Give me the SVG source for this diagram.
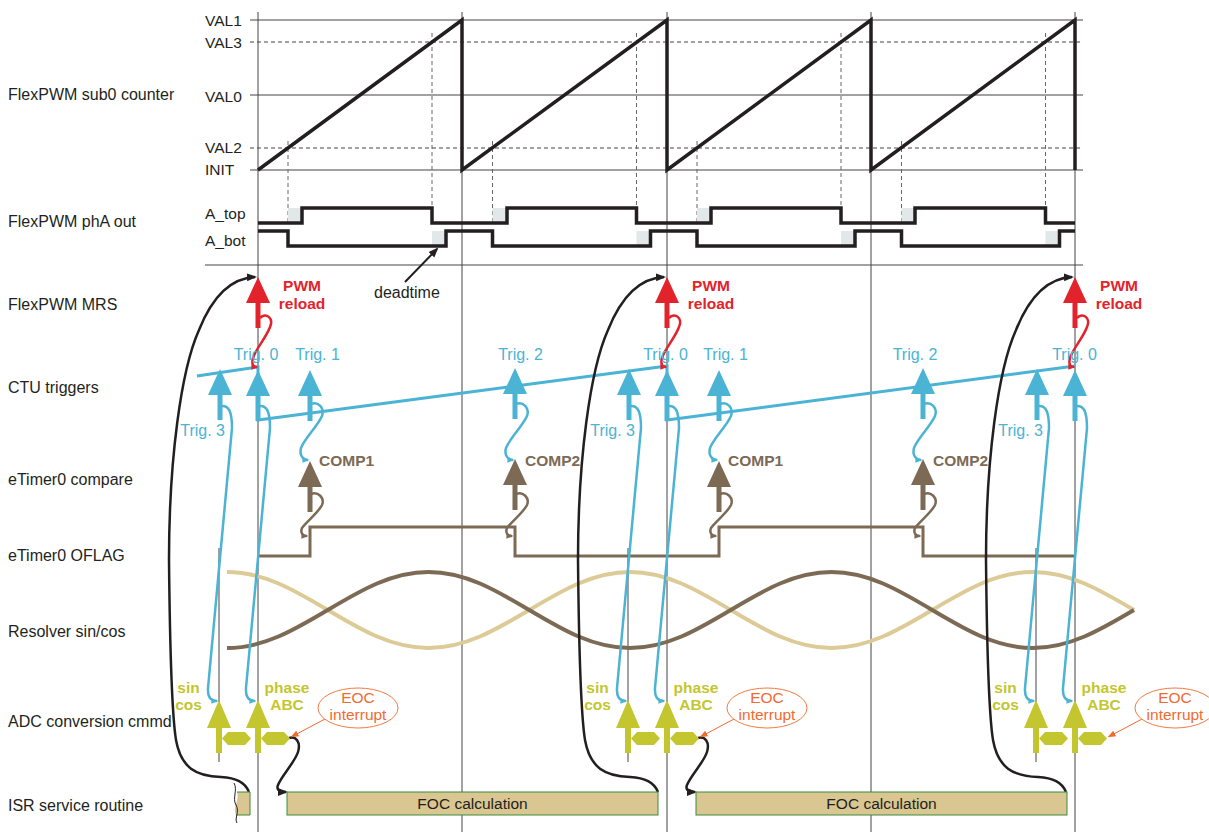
<svg xmlns="http://www.w3.org/2000/svg" width="1209" height="832" viewBox="0 0 1209 832">
<defs>
<style>
text{font-family:"Liberation Sans",Arial,Helvetica,sans-serif}
.lbl{font-size:16px;fill:#231f20}
.val{font-size:15.5px;fill:#231f20}
.trig{font-size:16px;fill:#4bb3d3}
.pwm{font-size:15.5px;font-weight:bold;fill:#e3232c;text-anchor:middle}
.comp{font-size:15.5px;font-weight:bold;fill:#7c6a55}
.adc{font-size:15.5px;font-weight:bold;fill:#c3c62e;text-anchor:middle}
.eoc{font-size:15.5px;fill:#f26a30;text-anchor:middle}
.foc{font-size:15.5px;fill:#231f20;text-anchor:middle}
.grid{stroke:#444;stroke-width:1;fill:none}
.dash{stroke:#444;stroke-width:1;stroke-dasharray:4 3;fill:none}
.gdash{stroke:#666;stroke-width:1;stroke-dasharray:4 3;fill:none}
.sig{stroke:#231f20;stroke-width:3.5;fill:none;stroke-linejoin:miter}
.cy{stroke:#4bb3d3;stroke-width:2.5;fill:none}
.br{stroke:#7c6a55;stroke-width:2.5;fill:none}
.rd{stroke:#e3232c;stroke-width:2.5;fill:none}
.bk{stroke:#231f20;stroke-width:2.5;fill:none}
.dt{fill:#e2e7e7}
.box{fill:#d9c690;stroke:#3d8b3d;stroke-width:1}
</style>
<marker id="mk-black" viewBox="0 0 10 10" refX="8" refY="5" markerWidth="10" markerHeight="10" markerUnits="userSpaceOnUse" orient="auto"><path d="M0,1 L10,5 L0,9 z" fill="#231f20"/></marker>
<marker id="mk-cyan" viewBox="0 0 10 10" refX="8" refY="5" markerWidth="7" markerHeight="7" markerUnits="userSpaceOnUse" orient="auto"><path d="M0,1 L10,5 L0,9 z" fill="#4bb3d3"/></marker>
<marker id="mk-red" viewBox="0 0 10 10" refX="8" refY="5" markerWidth="7" markerHeight="7" markerUnits="userSpaceOnUse" orient="auto"><path d="M0,1 L10,5 L0,9 z" fill="#e3232c"/></marker>
<marker id="mk-brown" viewBox="0 0 10 10" refX="8" refY="5" markerWidth="7" markerHeight="7" markerUnits="userSpaceOnUse" orient="auto"><path d="M0,1 L10,5 L0,9 z" fill="#7c6a55"/></marker>
<marker id="mk-orange" viewBox="0 0 10 10" refX="8" refY="5" markerWidth="8" markerHeight="8" markerUnits="userSpaceOnUse" orient="auto"><path d="M0,1 L10,5 L0,9 z" fill="#f26a30"/></marker>
<path id="arrowUp" d="M0 0 L12 26 L2.5 26 L2.5 51 L-2.5 51 L-2.5 26 L-12 26 Z"/>
<g id="adcArrow" fill="#c3c62e"><path d="M0 0 L12 28 L3 28 L3 53 L-3 53 L-3 28 L-12 28 Z"/><path d="M3 38.5 L9 32 L26 32 L32 38.5 L26 45 L9 45 Z"/></g>
<path id="cyanDown" class="cy" d="M1 406 C9 405 12 412 12 428 L-12 688 C-12.5 696 -10 701 -3 701" marker-end="url(#mk-cyan)"/>
<path id="blackLoop" class="bk" d="M-9 792 C-13 782 -22 778 -37 777 C-62 776 -77 768 -82 740 C-86 715 -88 660 -89 560 C-89 460 -77 370 -59 330 C-45 295 -27 278 -3 277" marker-end="url(#mk-black)"/>
<path id="blackSq" class="bk" d="M31 738 C38 736 43 742 40 752 C37 762 24 775 20 785 C18 790 22 792 28 792" marker-end="url(#mk-black)"/>
<path id="redSq" class="rd" d="M2 318 C8 312 16 318 12 327 C8 338 -3 350 -5 358 C-7 365 -4 367 -1 367" marker-end="url(#mk-red)"/>
<path id="cyanSq" class="cy" d="M1 404 C8 401 15 408 12 416 C7 427 -5 438 -9 448 C-11 455 -7 460 -2 460" marker-end="url(#mk-cyan)"/>
<path id="brownSq" class="br" d="M1 494 C8 491 15 498 12 505 C8 513 -3 521 -8 528 C-10 533 -7 536 -3 536" marker-end="url(#mk-brown)"/>
</defs>
<rect width="1209" height="832" fill="#ffffff"/>

<g id="lane-labels">
<text class="lbl" x="8" y="100">FlexPWM sub0 counter</text>
<text class="lbl" x="8" y="227">FlexPWM phA out</text>
<text class="lbl" x="8" y="310">FlexPWM MRS</text>
<text class="lbl" x="8" y="393">CTU triggers</text>
<text class="lbl" x="8" y="485">eTimer0 compare</text>
<text class="lbl" x="8" y="561">eTimer0 OFLAG</text>
<text class="lbl" x="8" y="637">Resolver sin/cos</text>
<text class="lbl" x="8" y="727">ADC conversion cmmd</text>
<text class="lbl" x="8" y="811">ISR service routine</text>
</g>

<g id="grid">
<path class="grid" d="M258 12 V832 M462 12 V832 M667 12 V832 M871 12 V832 M1075 12 V832"/>
<path class="grid" d="M219 548 V762 M628 548 V762 M1036 548 V762"/>
<path class="grid" d="M250 20 H1083 M250 95 H1083 M250 170 H1083 M205 265 H1083"/>
<path class="dash" d="M250 42 H1083 M250 148 H1083"/>
<path class="gdash" d="M288 141 V222 M492.5 141 V222 M697 141 V222 M901.5 141 V222 M432 33 V208 M636.5 33 V208 M841 33 V208 M1045.5 33 V208"/>
</g>

<g id="counter-labels">
<text class="val" x="205" y="26">VAL1</text>
<text class="val" x="205" y="48">VAL3</text>
<text class="val" x="205" y="102">VAL0</text>
<text class="val" x="205" y="153">VAL2</text>
<text class="val" x="205" y="175">INIT</text>
<text class="val" x="205" y="219">A_top</text>
<text class="val" x="205" y="246">A_bot</text>
</g>

<g id="counter">
<path class="sig" d="M258 170 L462 20 V170 L667 20 V170 L871 20 V170 L1075 20 V170"/>
</g>

<g id="phA">
<rect class="dt" x="288" y="208" width="14" height="15"/>
<rect class="dt" x="492.5" y="208" width="14.5" height="15"/>
<rect class="dt" x="697" y="208" width="14" height="15"/>
<rect class="dt" x="901.5" y="208" width="13.5" height="15"/>
<rect class="dt" x="432" y="231" width="14" height="15"/>
<rect class="dt" x="636.5" y="231" width="14" height="15"/>
<rect class="dt" x="841" y="231" width="14" height="15"/>
<rect class="dt" x="1045.5" y="231" width="14" height="15"/>
<path class="sig" d="M258 223 H302 V208 H432 V223 H507 V208 H636.5 V223 H711 V208 H841 V223 H915 V208 H1045.5 V223 H1075"/>
<path class="sig" d="M258 231 H288 V246 H446 V231 H492.5 V246 H650.5 V231 H697 V246 H855 V231 H901.5 V246 H1059.5 V231 H1075"/>
</g>

<g id="deadtime">
<path stroke="#231f20" stroke-width="2" fill="none" d="M405 282 L437 249" marker-end="url(#mk-black)"/>
<text class="lbl" x="374" y="298">deadtime</text>
</g>

<g id="resolver">
<path stroke="#dccb97" stroke-width="4" fill="none" d="M227 572 C263.6 572 294.1 590 327.75 610 C361.45 630 391.85 648 428.5 648 C465.1 648 495.6 630 529.25 610 C562.95 590 593.35 572 630 572 C666.6 572 697.1 590 730.75 610 C764.45 630 794.85 648 831.5 648 C868.1 648 898.6 630 932.25 610 C965.95 590 996.35 572 1033 572 C1069.6 572 1100.1 590 1134 610"/>
<path stroke="#7c6a55" stroke-width="4" fill="none" d="M227 648 C263.6 648 294.1 630 327.75 610 C361.45 590 391.85 572 428.5 572 C465.1 572 495.6 590 529.25 610 C562.95 630 593.35 648 630 648 C666.6 648 697.1 630 730.75 610 C764.45 590 794.85 572 831.5 572 C868.1 572 898.6 590 932.25 610 C965.95 630 996.35 648 1033 648 C1069.6 648 1100.1 630 1134 610"/>
</g>

<g id="oflag">
<path stroke="#7c6a55" stroke-width="3" fill="none" d="M258 556 H310 V527 H515 V556 H719 V527 H923 V556 H1075"/>
</g>

<g id="connectors">
<path stroke="#4bb3d3" stroke-width="3" fill="none" d="M197 376 L258 367 V420 L667 366 V420 L1075 366"/>
<use href="#cyanDown" x="220"/><use href="#cyanDown" x="258"/>
<use href="#cyanDown" x="629"/><use href="#cyanDown" x="667"/>
<use href="#cyanDown" x="1037"/><use href="#cyanDown" x="1075"/>
<use href="#redSq" x="258"/><use href="#redSq" x="667"/><use href="#redSq" x="1075"/>
<use href="#cyanSq" x="310"/><use href="#cyanSq" x="515"/><use href="#cyanSq" x="719"/><use href="#cyanSq" x="923"/>
<use href="#brownSq" x="310"/><use href="#brownSq" x="515"/><use href="#brownSq" x="719"/><use href="#brownSq" x="923"/>
<use href="#blackLoop" x="258"/><use href="#blackLoop" x="667"/><use href="#blackLoop" x="1075"/>
<use href="#blackSq" x="258"/><use href="#blackSq" x="667"/>
<path stroke="#f26a30" stroke-width="1" fill="none" d="M325 719 L292 736.5" marker-end="url(#mk-orange)"/>
<path stroke="#f26a30" stroke-width="1" fill="none" d="M734 719 L701 736.5" marker-end="url(#mk-orange)"/>
<path stroke="#f26a30" stroke-width="1" fill="none" d="M1142 719 L1109 736.5" marker-end="url(#mk-orange)"/>
</g>

<g id="pwm-reload-A"><use href="#arrowUp" x="258" y="277" fill="#e3232c"/><text class="pwm" x="302" y="291">PWM</text><text class="pwm" x="302" y="309">reload</text></g>
<g id="pwm-reload-B"><use href="#arrowUp" x="667" y="277" fill="#e3232c"/><text class="pwm" x="711" y="291">PWM</text><text class="pwm" x="711" y="309">reload</text></g>
<g id="pwm-reload-C"><use href="#arrowUp" x="1075" y="277" fill="#e3232c"/><text class="pwm" x="1119" y="291">PWM</text><text class="pwm" x="1119" y="309">reload</text></g>

<g id="trig3-A"><use href="#arrowUp" x="220" y="369" fill="#4bb3d3"/><text class="trig" x="225" y="436" text-anchor="end">Trig. 3</text></g>
<g id="trig0-A"><use href="#arrowUp" x="258" y="370" fill="#4bb3d3"/><text class="trig" x="256" y="360" text-anchor="middle">Trig. 0</text></g>
<g id="trig1-A"><use href="#arrowUp" x="310" y="370" fill="#4bb3d3"/><text class="trig" x="317.5" y="360" text-anchor="middle">Trig. 1</text></g>
<g id="trig2-A"><use href="#arrowUp" x="515" y="368" fill="#4bb3d3"/><text class="trig" x="520.5" y="360" text-anchor="middle">Trig. 2</text></g>
<g id="trig3-B"><use href="#arrowUp" x="629" y="369" fill="#4bb3d3"/><text class="trig" x="635" y="436" text-anchor="end">Trig. 3</text></g>
<g id="trig0-B"><use href="#arrowUp" x="667" y="370" fill="#4bb3d3"/><text class="trig" x="665.5" y="360" text-anchor="middle">Trig. 0</text></g>
<g id="trig1-B"><use href="#arrowUp" x="719" y="370" fill="#4bb3d3"/><text class="trig" x="725.5" y="360" text-anchor="middle">Trig. 1</text></g>
<g id="trig2-B"><use href="#arrowUp" x="923" y="368" fill="#4bb3d3"/><text class="trig" x="915" y="360" text-anchor="middle">Trig. 2</text></g>
<g id="trig3-C"><use href="#arrowUp" x="1037" y="369" fill="#4bb3d3"/><text class="trig" x="1043" y="436" text-anchor="end">Trig. 3</text></g>
<g id="trig0-C"><use href="#arrowUp" x="1075" y="370" fill="#4bb3d3"/><text class="trig" x="1074.5" y="360" text-anchor="middle">Trig. 0</text></g>

<g id="comp1-A"><use href="#arrowUp" x="310" y="461" fill="#7c6a55"/><text class="comp" x="319" y="466">COMP1</text></g>
<g id="comp2-A"><use href="#arrowUp" x="515" y="459" fill="#7c6a55"/><text class="comp" x="525" y="466">COMP2</text></g>
<g id="comp1-B"><use href="#arrowUp" x="719" y="461" fill="#7c6a55"/><text class="comp" x="728" y="466">COMP1</text></g>
<g id="comp2-B"><use href="#arrowUp" x="923" y="459" fill="#7c6a55"/><text class="comp" x="933" y="466">COMP2</text></g>

<g id="adc-A"><use href="#adcArrow" x="219" y="700"/><use href="#adcArrow" x="258" y="700"/><text class="adc" x="188.5" y="693">sin</text><text class="adc" x="188.5" y="710">cos</text><text class="adc" x="287" y="693">phase</text><text class="adc" x="287" y="710">ABC</text></g>
<g id="adc-B"><use href="#adcArrow" x="628" y="700"/><use href="#adcArrow" x="667" y="700"/><text class="adc" x="597.5" y="693">sin</text><text class="adc" x="597.5" y="710">cos</text><text class="adc" x="696" y="693">phase</text><text class="adc" x="696" y="710">ABC</text></g>
<g id="adc-C"><use href="#adcArrow" x="1036" y="700"/><use href="#adcArrow" x="1075" y="700"/><text class="adc" x="1005.5" y="693">sin</text><text class="adc" x="1005.5" y="710">cos</text><text class="adc" x="1104" y="693">phase</text><text class="adc" x="1104" y="710">ABC</text></g>

<g id="eoc-A"><ellipse cx="358" cy="708" rx="40" ry="20" fill="#fff" stroke="#f47a45" stroke-width="1"/><text class="eoc" x="358" y="703">EOC</text><text class="eoc" x="358" y="720">interrupt</text></g>
<g id="eoc-B"><ellipse cx="767" cy="708" rx="40" ry="20" fill="#fff" stroke="#f47a45" stroke-width="1"/><text class="eoc" x="767" y="703">EOC</text><text class="eoc" x="767" y="720">interrupt</text></g>
<g id="eoc-C"><ellipse cx="1175" cy="708" rx="40" ry="20" fill="#fff" stroke="#f47a45" stroke-width="1"/><text class="eoc" x="1175" y="703">EOC</text><text class="eoc" x="1175" y="720">interrupt</text></g>

<g id="isr-tail">
<path d="M237 792 H250 V815 H236 C232 808 240 800 237 792 Z" fill="#d9c690"/>
<path d="M237 792 H250 V815 H236" fill="none" stroke="#3d8b3d" stroke-width="1"/>
<path d="M234 783 C238 790 232 798 236 805 C240 812 234 818 237 823" fill="none" stroke="#231f20" stroke-width="1"/>
</g>
<g id="foc-1"><rect class="box" x="287" y="792" width="371" height="23"/><text class="foc" x="472.5" y="809">FOC calculation</text></g>
<g id="foc-2"><rect class="box" x="696" y="792" width="371" height="23"/><text class="foc" x="881.5" y="809">FOC calculation</text></g>
</svg>
